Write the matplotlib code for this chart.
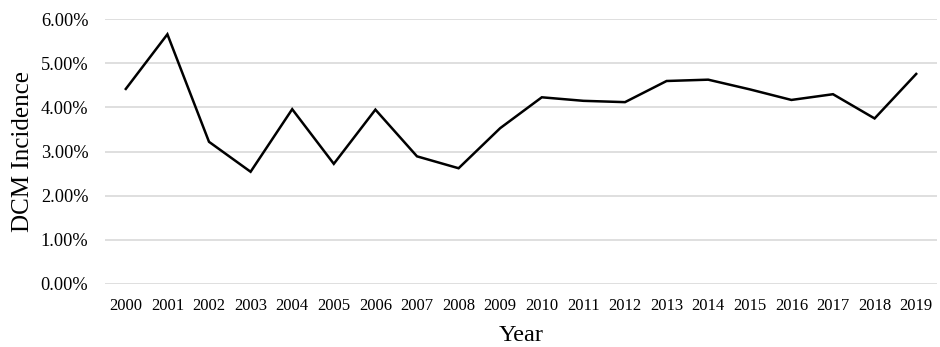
import matplotlib.pyplot as plt
from matplotlib.ticker import FuncFormatter

years = [str(y) for y in range(2000, 2020)]
incidence = [4.42, 5.66, 3.22, 2.54, 3.96, 2.72, 3.95, 2.89, 2.62, 3.53,
             4.23, 4.15, 4.12, 4.60, 4.63, 4.41, 4.17, 4.30, 3.75, 4.76]
y_ticks = [0, 1, 2, 3, 4, 5, 6]

plt.rcParams['font.family'] = ['Liberation Serif', 'DejaVu Serif']

fig = plt.figure(figsize=(9.4, 3.47), dpi=100)
ax = fig.add_axes([105 / 940, 1 - 283.7 / 347, 832 / 940, 264.4 / 347])

x = list(range(len(years)))
ax.plot(x, incidence, color="black", linewidth=1.8, solid_joinstyle="miter")

ax.set_xlim(-0.5, len(years) - 0.5)
ax.set_ylim(0, 6)
ax.set_yticks(y_ticks)
ax.yaxis.set_major_formatter(FuncFormatter(lambda v, _: f"{v:.2f}%"))
ax.set_xticks(x)
ax.set_xticklabels(years)

ax.grid(axis="y", color="#d9d9d9", linewidth=1.2)
ax.set_axisbelow(True)
for s in ax.spines.values():
    s.set_visible(False)
ax.tick_params(axis="both", length=0)
ax.tick_params(axis="y", pad=12, labelsize=13.2)
ax.tick_params(axis="x", pad=10, labelsize=12)

ax.set_xlabel("Year", fontsize=17.5, labelpad=8)
ax.set_ylabel("DCM Incidence", fontsize=18, labelpad=5)

fig.savefig("out.png", dpi=100)
